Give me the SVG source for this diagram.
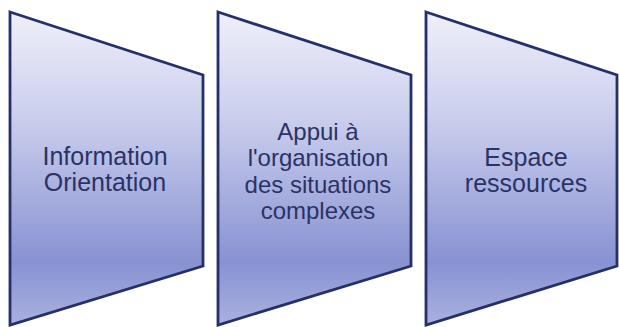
<svg xmlns="http://www.w3.org/2000/svg" width="619" height="327" viewBox="0 0 619 327">
  <defs>
    <linearGradient id="g" gradientUnits="userSpaceOnUse" x1="0" y1="12" x2="0" y2="325">
      <stop offset="0" stop-color="#eff0fa"/>
      <stop offset="0.35" stop-color="#c9cdec"/>
      <stop offset="0.8" stop-color="#8892d2"/>
      <stop offset="1" stop-color="#aab1e0"/>
    </linearGradient>
    <style>
      .shape { fill: url(#g); stroke: #253068; stroke-width: 2.8; stroke-linejoin: miter; }
      .label { font-family: "Liberation Sans", Arial, sans-serif; font-size: 24px; fill: #2a3366; text-anchor: middle; }
      .big { font-size: 25px; }
    </style>
  </defs>
  <rect width="619" height="327" fill="#ffffff"/>
  <g id="node1">
    <polygon class="shape" points="10,12 203,75 203,266 10,325"/>
    <text class="label big" x="105" y="165">Information</text>
    <text class="label big" x="105" y="191">Orientation</text>
  </g>
  <g id="node2">
    <polygon class="shape" points="218,12 411,75 411,266 218,325"/>
    <text class="label" x="318" y="140">Appui à</text>
    <text class="label" x="318" y="166">l'organisation</text>
    <text class="label" x="318" y="192.5">des situations</text>
    <text class="label" x="318" y="218.5">complexes</text>
  </g>
  <g id="node3">
    <polygon class="shape" points="426,12 617,75 617,266 426,325"/>
    <text class="label big" x="526" y="166">Espace</text>
    <text class="label big" x="526" y="192">ressources</text>
  </g>
  <g id="connectors"></g>
</svg>
